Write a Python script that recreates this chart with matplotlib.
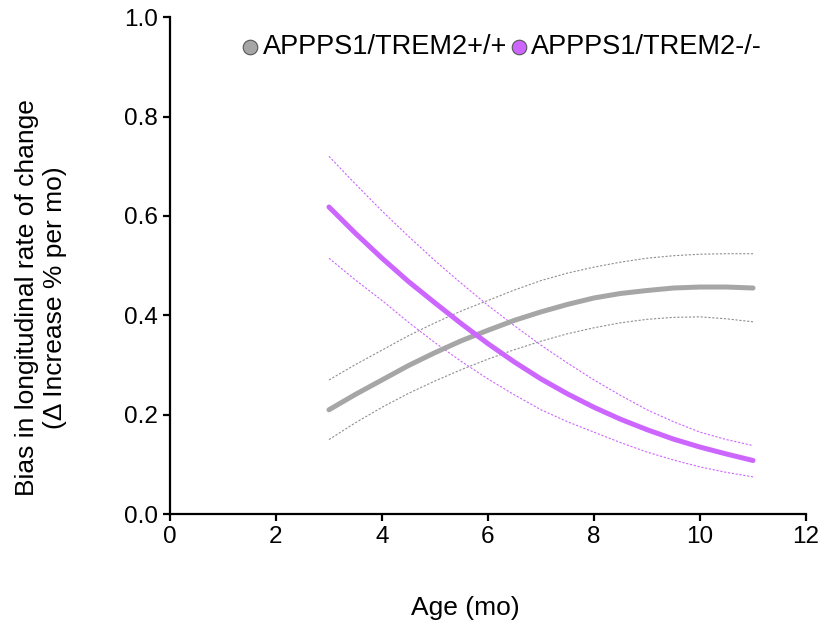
import matplotlib.pyplot as plt
import numpy as np

plt.rcParams['font.family'] = ['Liberation Sans', 'DejaVu Sans']

age = [3, 3.5, 4, 4.5, 5, 5.5, 6, 6.5, 7, 7.5, 8, 8.5, 9, 9.5, 10, 10.5, 11]

wt_mean = [0.21, 0.241, 0.27, 0.299, 0.325, 0.349, 0.37, 0.39, 0.407,
           0.422, 0.435, 0.444, 0.45, 0.455, 0.457, 0.457, 0.455]
wt_upper = [0.27, 0.301, 0.33, 0.359, 0.385, 0.409, 0.43, 0.451, 0.47,
            0.485, 0.497, 0.507, 0.515, 0.52, 0.523, 0.524, 0.524]
wt_lower = [0.15, 0.184, 0.215, 0.243, 0.268, 0.291, 0.312, 0.331, 0.348,
            0.363, 0.375, 0.385, 0.392, 0.396, 0.397, 0.393, 0.387]

ko_mean = [0.618, 0.565, 0.515, 0.468, 0.425, 0.383, 0.343, 0.306, 0.272,
           0.242, 0.215, 0.191, 0.17, 0.151, 0.135, 0.121, 0.108]
ko_upper = [0.72, 0.664, 0.61, 0.559, 0.51, 0.464, 0.42, 0.379, 0.34,
            0.304, 0.27, 0.239, 0.21, 0.186, 0.165, 0.15, 0.138]
ko_lower = [0.515, 0.471, 0.43, 0.386, 0.345, 0.307, 0.272, 0.24, 0.21,
            0.186, 0.165, 0.144, 0.125, 0.109, 0.095, 0.084, 0.075]

labels = ['APPPS1/TREM2+/+', 'APPPS1/TREM2-/-']

GRAY = '#a6a6a6'
PURPLE = '#cc66ff'

fig = plt.figure(figsize=(8.25, 6.34), dpi=100)
ax = fig.add_axes([0.206, 0.189, 0.771, 0.784])

dots = (0, (2, 1.5))
ax.plot(age, wt_upper, color='#909090', lw=0.8, ls=dots)
ax.plot(age, wt_lower, color='#909090', lw=0.8, ls=dots)
ax.plot(age, ko_upper, color=PURPLE, lw=0.8, ls=dots)
ax.plot(age, ko_lower, color=PURPLE, lw=0.8, ls=dots)
ax.plot(age, wt_mean, color=GRAY, lw=3.6, solid_capstyle='round')
ax.plot(age, ko_mean, color=PURPLE, lw=3.6, solid_capstyle='round')

# legend handles
h1 = ax.scatter([], [], s=110, color=GRAY, edgecolor='#555555', lw=0.8)
h2 = ax.scatter([], [], s=110, color=PURPLE, edgecolor='#555555', lw=0.8)
fig.legend([h1, h2], labels, ncol=2,
           loc='upper left', bbox_to_anchor=(218 / 825, 0.985), frameon=False,
           fontsize=19.5, handlelength=0.6, handletextpad=0.15,
           columnspacing=0.15)

ax.set_xlim(0, 12)
ax.set_ylim(0, 1.0)
ax.set_xticks([0, 2, 4, 6, 8, 10, 12])
ax.set_yticks([0.0, 0.2, 0.4, 0.6, 0.8, 1.0])
ax.set_yticklabels(['0.0', '0.2', '0.4', '0.6', '0.8', '1.0'])

for s in ['top', 'right']:
    ax.spines[s].set_visible(False)
for s in ['left', 'bottom']:
    ax.spines[s].set_linewidth(1.6)
ax.tick_params(width=1.6, length=5, labelsize=17.5, direction='out')

ax.set_xlabel('Age (mo)', fontsize=19)
ax.set_ylabel('Bias in longitudinal rate of change\n(\u0394 Increase % per mo)',
              fontsize=19)
ax.xaxis.set_label_coords(0.464, -0.165)
ax.yaxis.set_label_coords(-0.162, 0.435)

fig.savefig('out.png', dpi=100)
